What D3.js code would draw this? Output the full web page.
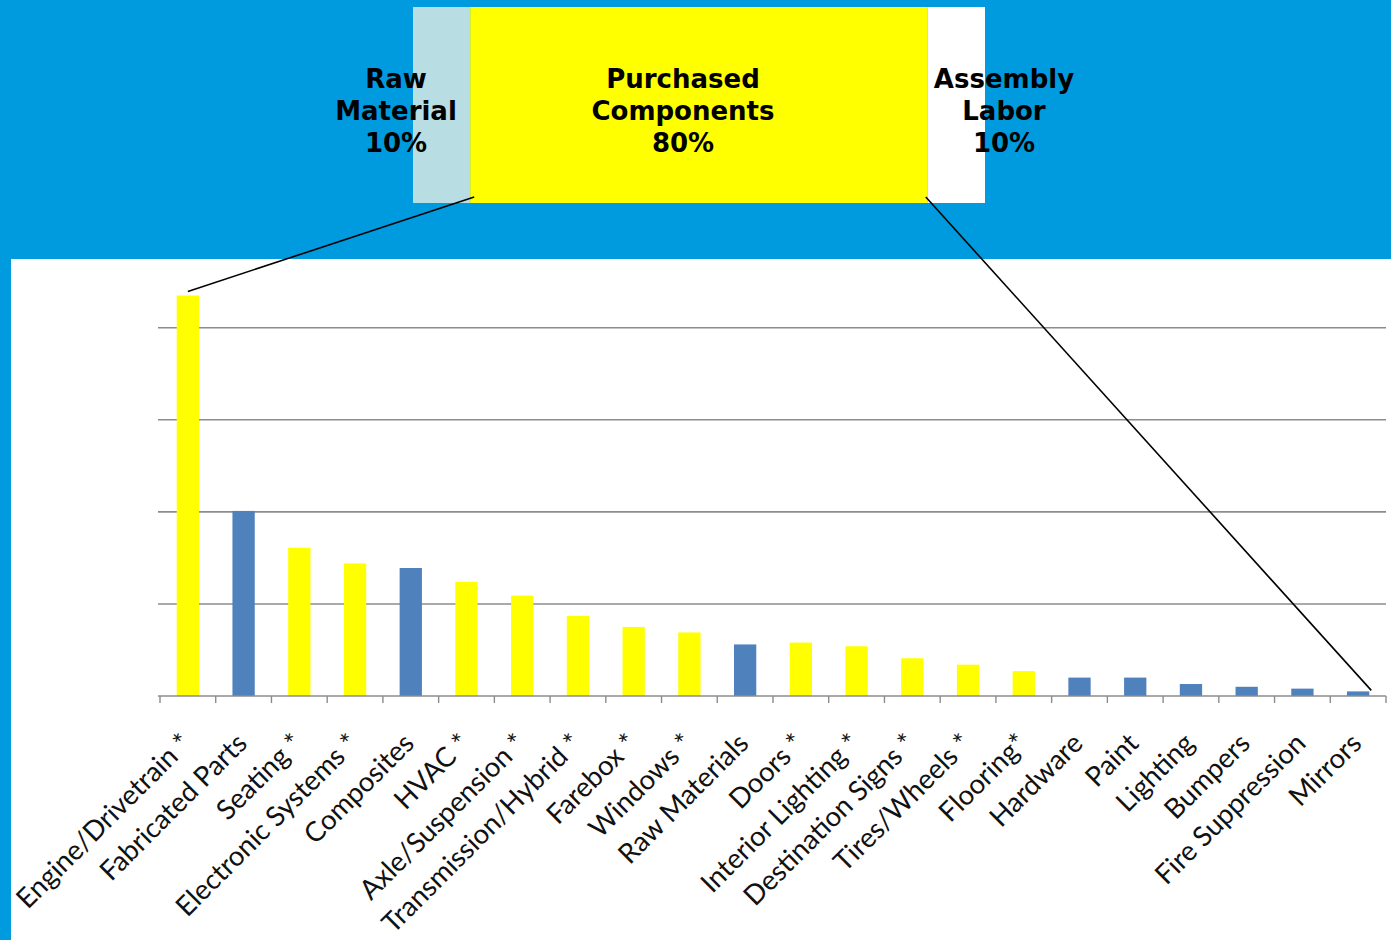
<!DOCTYPE html>
<html><head><meta charset="utf-8">
<script src="https://cdn.jsdelivr.net/npm/d3@7"></script>
<style>html,body{margin:0;padding:0;background:#fff;}svg{display:block;}</style>
</head><body>
<svg id="c" width="1391" height="940"></svg>
<script>
const categories = ["Engine/Drivetrain *","Fabricated Parts","Seating *","Electronic Systems *","Composites","HVAC *","Axle/Suspension *","Transmission/Hybrid *","Farebox *","Windows *","Raw Materials","Doors *","Interior Lighting *","Destination Signs *","Tires/Wheels *","Flooring*","Hardware","Paint","Lighting","Bumpers","Fire Suppression","Mirrors"];
const values = [4.35,2.01,1.61,1.44,1.39,1.24,1.09,0.87,0.75,0.69,0.56,0.58,0.54,0.41,0.34,0.27,0.20,0.20,0.13,0.10,0.08,0.05];
const purchased = [true,false,true,true,false,true,true,true,true,true,false,true,true,true,true,true,false,false,false,false,false,false];
const gridTicks = [1,2,3,4];
const costParts = ["Raw Material","Purchased Components","Assembly Labor"];
const costShares = [10,80,10];
const costLabels = [["Raw","Material","10%"],["Purchased","Components","80%"],["Assembly","Labor","10%"]];

const svg = d3.select("#c");
const W = 1391, H = 940;
const BLUE_BG = "#009ADE";
// background
svg.append("rect").attr("x",0).attr("y",0).attr("width",W).attr("height",H).attr("fill",BLUE_BG);
svg.append("rect").attr("x",11).attr("y",259).attr("width",W-11).attr("height",H-259).attr("fill","#fff");

// top stacked bar
const xs = d3.scaleLinear().domain([0,100]).range([413,985]);
const segColors = ["#B8DDE3","#FFFF00","#FFFFFF"];
let cum = 0;
const segs = costShares.map((v,i)=>{const s={i,start:cum,end:cum+v}; cum+=v; return s;});
svg.selectAll("rect.seg").data(segs).join("rect").attr("class","seg")
  .attr("x",d=>xs(d.start)).attr("width",d=>xs(d.end)-xs(d.start))
  .attr("y",7).attr("height",196).attr("fill",d=>segColors[d.i]);
const labelX = [396,683,1004];
const tg = svg.append("g").attr("font-family","'DejaVu Sans', Verdana, sans-serif").attr("font-weight","bold").attr("font-size",26).attr("fill","#000").attr("text-anchor","middle");
costLabels.forEach((lines,i)=>{
  const t = tg.append("text").attr("x",labelX[i]).attr("y",88);
  lines.forEach((l,j)=>t.append("tspan").attr("x",labelX[i]).attr("y",88+j*32).text(l));
});

// bar chart
const x = d3.scaleBand().domain(categories).range([160,1386]).paddingInner(0.6).paddingOuter(0.3);
const y = d3.scaleLinear().domain([0,4]).range([696,327.7]);
const g = svg.append("g");
g.selectAll("line.grid").data(gridTicks).join("line").attr("class","grid")
  .attr("x1",158).attr("x2",1386).attr("y1",d=>y(d)).attr("y2",d=>y(d))
  .attr("stroke","#8c8c8c").attr("stroke-width",1.6);
g.selectAll("rect.bar").data(categories).join("rect").attr("class","bar")
  .attr("x",d=>x(d)).attr("width",x.bandwidth())
  .attr("y",(d,i)=>y(values[i])).attr("height",(d,i)=>y(0)-y(values[i]))
  .attr("fill",(d,i)=>purchased[i]?"#FFFF00":"#4F81BD");
// x axis baseline + ticks at boundaries
const step = x.step();
const bounds = d3.range(categories.length+1).map(i=>160+i*step);
g.append("line").attr("x1",158).attr("x2",1386).attr("y1",y(0)).attr("y2",y(0)).attr("stroke","#8c8c8c").attr("stroke-width",1.6);
g.selectAll("line.tick").data(bounds).join("line").attr("class","tick")
  .attr("x1",d=>d).attr("x2",d=>d).attr("y1",y(0)).attr("y2",y(0)+7).attr("stroke","#8c8c8c").attr("stroke-width",1.4);
// labels
g.selectAll("text.lab").data(categories).join("text").attr("class","lab")
  .attr("transform",d=>`translate(${x(d)+x.bandwidth()/2+5},${y(0)+49}) rotate(-45)`)
  .attr("text-anchor","end")
  .attr("font-family","Lato, 'Open Sans', sans-serif").attr("font-size",27.5).attr("fill","#111")
  .text(d=>d);

// connectors
const first = categories[0], last = categories[categories.length-1];
svg.append("line").attr("x1",xs(10)+4).attr("y1",197).attr("x2",x(first)+x.bandwidth()/2).attr("y2",y(values[0])-4)
  .attr("stroke","#000").attr("stroke-width",1.6);
svg.append("line").attr("x1",xs(90)-2).attr("y1",197).attr("x2",x(last)+x.bandwidth()+2).attr("y2",y(values[values.length-1])-1)
  .attr("stroke","#000").attr("stroke-width",1.6);
</script>
</body></html>
